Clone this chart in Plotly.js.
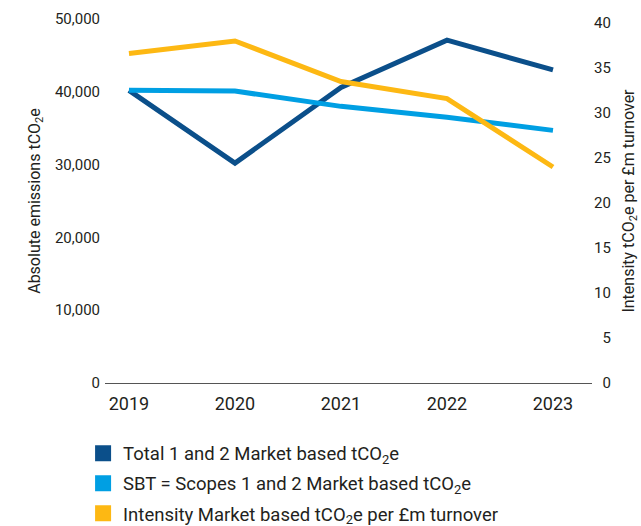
<!DOCTYPE html>
<html>
<head>
<meta charset="utf-8">
<script src="https://cdn.plot.ly/plotly-3.0.1.min.js"></script>
<style>html,body{margin:0;padding:0;background:#fff;}#chart{width:641px;height:526px;}</style>
</head>
<body>
<div id="chart"></div>
<script>
const years = ["2019", "2020", "2021", "2022", "2023"];
const totalMarket = [40200, 30200, 40600, 47100, 43000];
const sbtScopes = [40200, 40100, 38000, 36500, 34700];
const intensity = [36.6, 38.0, 33.5, 31.6, 24.0];
const seriesNames = [
  "Total 1 and 2 Market based tCO<sub>2</sub>e",
  "SBT = Scopes 1 and 2 Market based tCO<sub>2</sub>e",
  "Intensity Market based tCO<sub>2</sub>e per £m turnover"
];
const seriesColors = ["#0B4F8A", "#009FE3", "#FDB813"];
const leftTickVals = [0, 10000, 20000, 30000, 40000, 50000];
const rightTickVals = [0, 5, 10, 15, 20, 25, 30, 35, 40];
const rightTickText = ["\u20070", "\u20075", "10", "15", "20", "25", "30", "35", "40"];

const FONT = "Roboto, 'Open Sans', sans-serif";
const TXT = "#231F20";

const lineTraces = [
  {x: years, y: totalMarket, yaxis: "y", color: seriesColors[0]},
  {x: years, y: sbtScopes, yaxis: "y", color: seriesColors[1]},
  {x: years, y: intensity, yaxis: "y2", color: seriesColors[2]}
].map(t => ({
  type: "scatter", mode: "lines", x: t.x, y: t.y, yaxis: t.yaxis,
  line: {color: t.color, width: 5}, showlegend: false, hoverinfo: "skip"
}));

const legendTraces = seriesNames.map((n, i) => ({
  type: "scatter", mode: "markers", x: [null], y: [null], name: n,
  legendgroup: "g" + i,
  marker: {symbol: "square", size: 16, color: seriesColors[i]}, showlegend: true
}));

const layout = {
  width: 641, height: 526,
  margin: {l: 105, r: 49, t: 19, b: 143, autoexpand: false},
  paper_bgcolor: "#fff", plot_bgcolor: "#fff",
  font: {family: FONT, color: TXT, size: 15},
  showlegend: true,
  legend: {
    x: -0.045, xanchor: "left", y: -0.142, yanchor: "top",
    font: {family: FONT, size: 18.5, color: TXT},
    tracegroupgap: 3, itemsizing: "trace", bgcolor: "rgba(0,0,0,0)"
  },
  xaxis: {
    type: "category", range: [-0.226, 4.368],
    showgrid: false, zeroline: false, showline: true, linecolor: "#555", linewidth: 1.2,
    ticks: "", tickfont: {family: FONT, size: 18, color: TXT}, ticklabelstandoff: 4,
    fixedrange: true
  },
  yaxis: {
    range: [0, 50000], tickvals: leftTickVals, tickformat: ",d",
    showgrid: false, zeroline: false, showline: false, ticks: "",
    tickfont: {family: FONT, size: 15, color: TXT}, ticklabelstandoff: 4,
    title: {text: "Absolute emissions tCO<sub>2</sub>e", font: {family: FONT, size: 16, color: TXT}, standoff: 10},
    fixedrange: true
  },
  yaxis2: {
    overlaying: "y", side: "right", range: [0, 40.44],
    tickvals: rightTickVals, ticktext: rightTickText,
    showgrid: false, zeroline: false, showline: false, ticks: "",
    tickfont: {family: FONT, size: 15, color: TXT}, ticklabelstandoff: 1,
    title: {text: "Intensity tCO<sub>2</sub>e per £m turnover", font: {family: FONT, size: 16, color: TXT}, standoff: 12},
    fixedrange: true
  }
};

Plotly.newPlot("chart", lineTraces.concat(legendTraces), layout, {displayModeBar: false, staticPlot: true});
</script>
</body>
</html>
